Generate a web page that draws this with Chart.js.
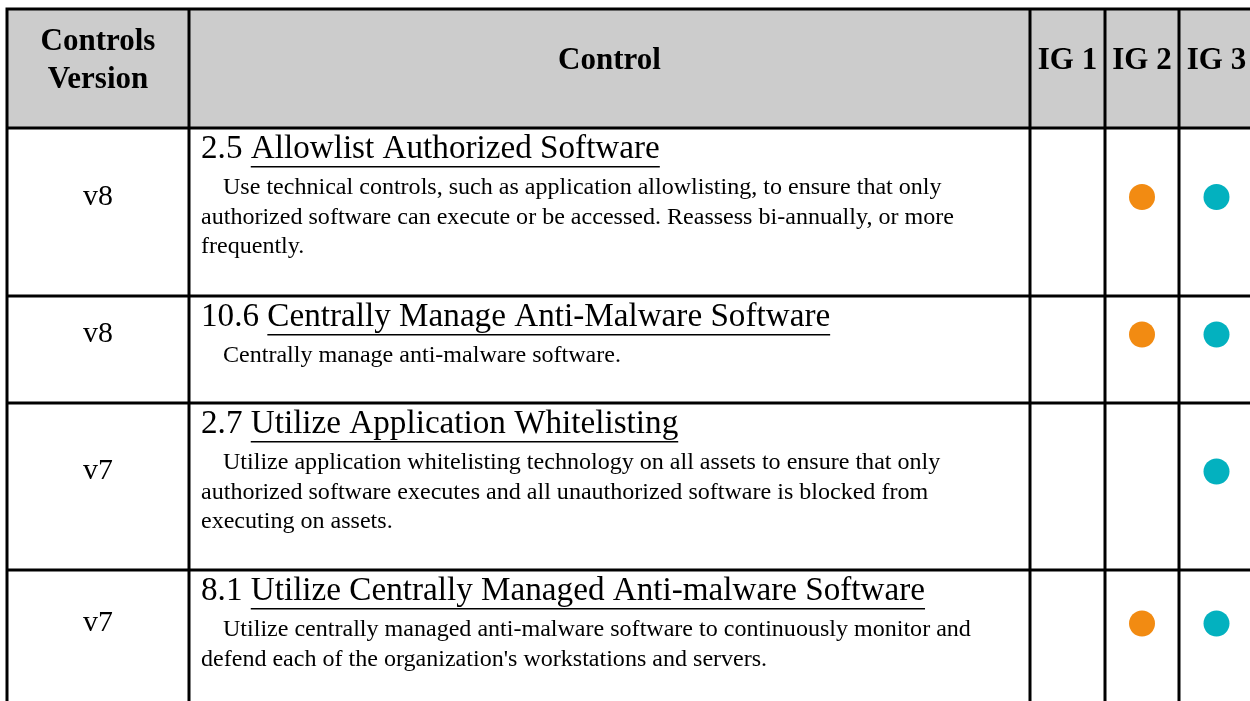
<!DOCTYPE html>
<html>
<head>
<meta charset="utf-8">
<script src="https://cdn.jsdelivr.net/npm/chart.js@4.4.1/dist/chart.umd.min.js"></script>
<style>
  html, body { margin: 0; padding: 0; background: #fff; }
</style>
</head>
<body>
<canvas id="draw-on-me" width="1250" height="701"></canvas>
<script>
'use strict';

// table content
const headers = [['Controls', 'Version'], ['Control'], ['IG 1'], ['IG 2'], ['IG 3']];
const versions = ['v8', 'v8', 'v7', 'v7'];
const controlIds = ['2.5', '10.6', '2.7', '8.1'];
const controlTitles = [
  'Allowlist Authorized Software',
  'Centrally Manage Anti-Malware Software',
  'Utilize Application Whitelisting',
  'Utilize Centrally Managed Anti-malware Software'
];
const controlDescriptions = [
  ['Use technical controls, such as application allowlisting, to ensure that only',
   'authorized software can execute or be accessed. Reassess bi-annually, or more',
   'frequently.'],
  ['Centrally manage anti-malware software.'],
  ['Utilize application whitelisting technology on all assets to ensure that only',
   'authorized software executes and all unauthorized software is blocked from',
   'executing on assets.'],
  ['Utilize centrally managed anti-malware software to continuously monitor and',
   "defend each of the organization's workstations and servers."]
];
// 1 = safeguard applies to that implementation group
const ig1 = [0, 0, 0, 0];
const ig2 = [1, 1, 0, 1];
const ig3 = [1, 1, 1, 1];

// layout (in canvas units, mapped through the x/y scales)
const colEdges = [7, 189, 1030, 1105, 1179, 1254];
const rowEdges = [9, 128, 296, 403, 570, 707];
const LIFT = 15;      // body cells keep a trailing paragraph gap, so centred content sits a bit high
const HEAD_LIFT = 8;
const FONT = '"Liberation Serif", "DejaVu Serif", serif';

const canvasEl = document.getElementById('draw-on-me');
const drawingContext = canvasEl.getContext('2d');

function colMid(c) { return (colEdges[c] + colEdges[c + 1]) / 2; }
function rowMid(r) { return (rowEdges[r + 1] + rowEdges[r + 2]) / 2 - LIFT; }

function igPoints(flags, col) {
  const pts = [];
  flags.forEach((f, i) => { if (f) pts.push({ x: colMid(col), y: rowMid(i) }); });
  return pts;
}

// pick a font size so that a sample string gets a given width
function fitSize(ctx, text, weight, target) {
  ctx.font = weight + ' 100px ' + FONT;
  return 100 * target / ctx.measureText(text).width;
}

const tablePlugin = {
  id: 'tablePlugin',
  beforeDatasetsDraw(chart) {
    const ctx = chart.ctx;
    const xs = chart.scales.x;
    const ys = chart.scales.y;
    const X = v => xs.getPixelForValue(v);
    const Y = v => ys.getPixelForValue(v);

    ctx.save();
    // header background
    ctx.fillStyle = '#cccccc';
    ctx.fillRect(X(colEdges[0]), Y(rowEdges[0]), X(colEdges[colEdges.length - 1]) - X(colEdges[0]), Y(rowEdges[1]) - Y(rowEdges[0]));

    // header text
    ctx.font = 'bold 31px ' + FONT;
    ctx.fillStyle = '#000';
    ctx.textAlign = 'center';
    ctx.textBaseline = 'middle';
    headers.forEach((lines, c) => {
      const mid = (rowEdges[0] + rowEdges[1]) / 2 - HEAD_LIFT;
      const gap = 38;
      lines.forEach((t, k) => {
        const y = mid + (k - (lines.length - 1) / 2) * gap;
        ctx.fillText(t, X(colMid(c)), Y(y));
      });
    });

    // body text
    const titleSize = fitSize(ctx, '2.5 Allowlist Authorized Software', 'normal', 459);
    const descSize = fitSize(ctx, controlDescriptions[0][0], 'normal', 719);
    versions.forEach((v, i) => {
      const top = rowEdges[i + 1];
      ctx.font = titleSize * 0.9 + 'px ' + FONT;
      ctx.textAlign = 'center';
      ctx.textBaseline = 'middle';
      ctx.fillText(v, X(colMid(0)), Y(rowMid(i)));

      ctx.textAlign = 'left';
      ctx.textBaseline = 'alphabetic';
      const x0 = colEdges[1] + 12;
      const yTitle = top + 30;
      ctx.font = titleSize + 'px ' + FONT;
      const idText = controlIds[i] + ' ';
      ctx.fillText(idText, X(x0), Y(yTitle));
      const tx = X(x0) + ctx.measureText(idText).width;
      ctx.fillText(controlTitles[i], tx, Y(yTitle));
      const tw = ctx.measureText(controlTitles[i]).width;
      ctx.fillRect(tx, Y(yTitle + 8), tw, 1.5);

      ctx.font = descSize + 'px ' + FONT;
      controlDescriptions[i].forEach((line, k) => {
        const indent = k === 0 ? 22 : 0;
        ctx.fillText(line, X(x0 + indent), Y(top + 66 + k * 29.5));
      });
    });

    // grid lines
    ctx.strokeStyle = '#000';
    ctx.lineWidth = 3;
    ctx.beginPath();
    colEdges.forEach(x => {
      ctx.moveTo(X(x), Y(rowEdges[0]));
      ctx.lineTo(X(x), Y(rowEdges[rowEdges.length - 1]));
    });
    rowEdges.forEach(y => {
      ctx.moveTo(X(colEdges[0]) - 1.5, Y(y));
      ctx.lineTo(X(colEdges[colEdges.length - 1]) + 1.5, Y(y));
    });
    ctx.stroke();
    ctx.restore();
  }
};

const chartObj = new Chart(drawingContext, {
  type: 'scatter',
  data: {
    datasets: [{
      label: 'IG 1',
      data: igPoints(ig1, 2),
      backgroundColor: '#8cc63f'
    }, {
      label: 'IG 2',
      data: igPoints(ig2, 3),
      backgroundColor: '#f28b12'
    }, {
      label: 'IG 3',
      data: igPoints(ig3, 4),
      backgroundColor: '#03b1bf'
    }]
  },
  options: {
    responsive: false,
    animation: false,
    events: [],
    layout: { padding: 0, autoPadding: false },
    elements: { point: { radius: 13, hoverRadius: 13, borderWidth: 0 } },
    plugins: { legend: { display: false }, tooltip: { enabled: false } },
    scales: {
      x: { type: 'linear', min: 0, max: 1250, display: false },
      y: { type: 'linear', min: 0, max: 701, reverse: true, display: false }
    }
  },
  plugins: [tablePlugin]
});
</script>
</body>
</html>
